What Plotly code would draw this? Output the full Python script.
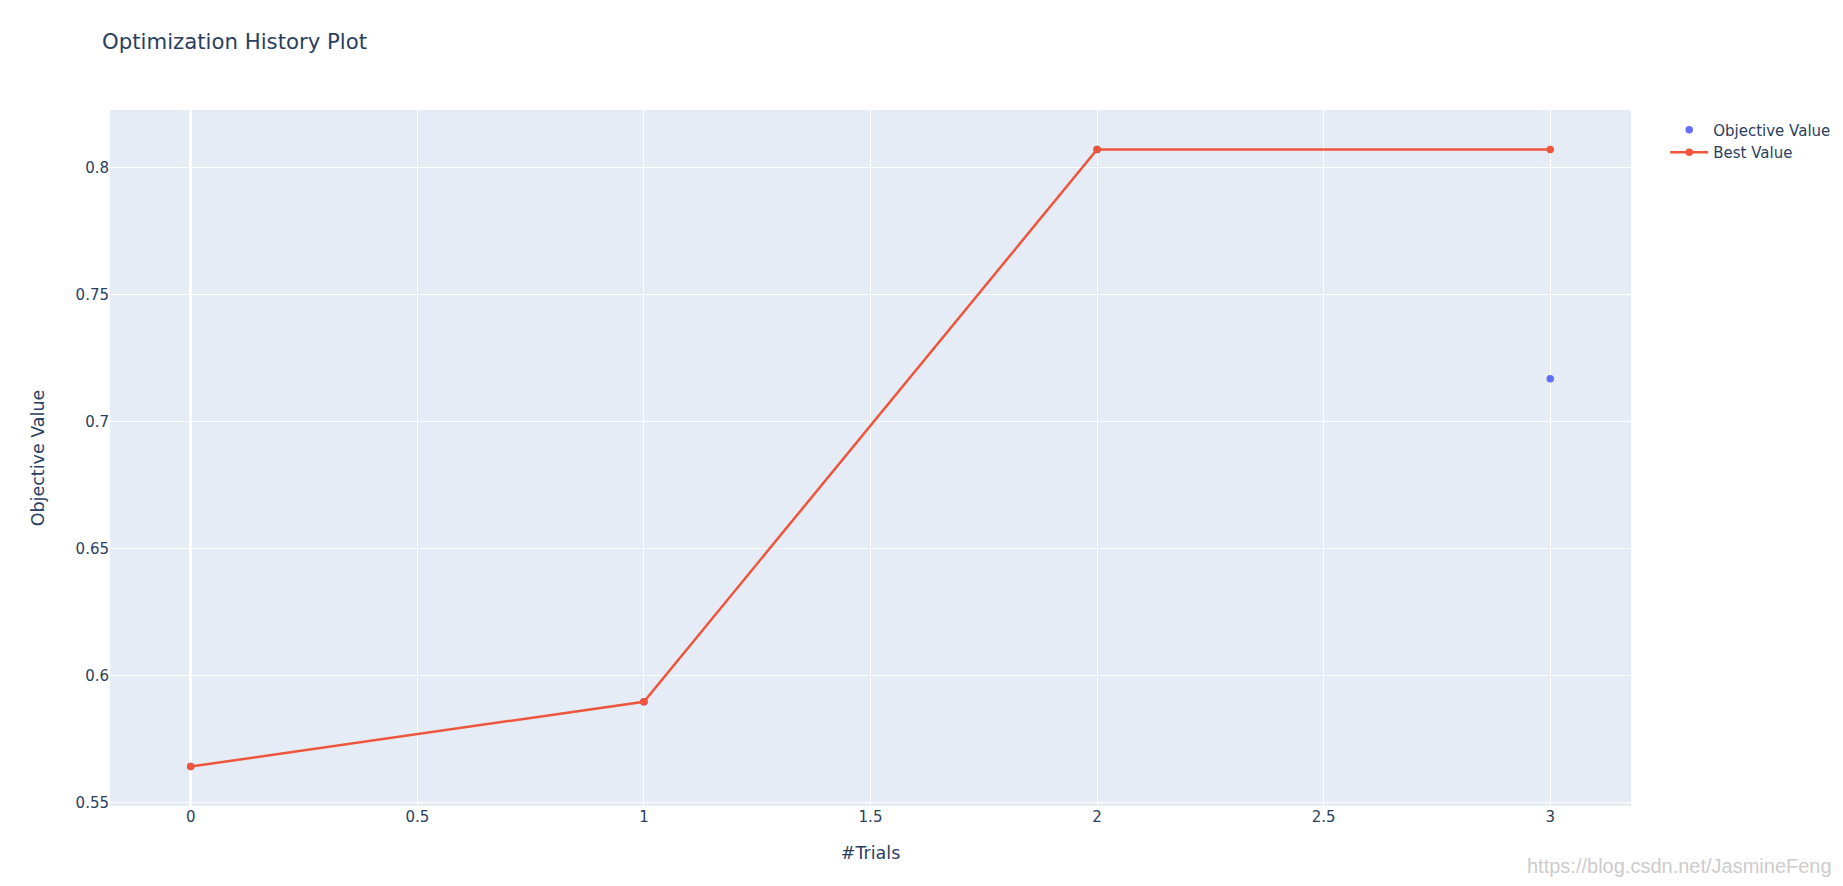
import plotly.graph_objects as go

trials = [0, 1, 2, 3]
objective_values = [0.5643, 0.5898, 0.8071, 0.7169]
best_values = [0.5643, 0.5898, 0.8071, 0.8071]

S = 1.25  # the reference was captured at 125% zoom

fig = go.Figure()
fig.add_trace(go.Scatter(
    x=trials, y=objective_values, mode="markers", name="Objective Value",
    marker=dict(color="#636efa", size=6 * S),
))
fig.add_trace(go.Scatter(
    x=trials, y=best_values, mode="lines+markers", name="Best Value",
    marker=dict(color="#EF553B", size=6 * S),
    line=dict(color="#EF553B", width=2 * S),
))

fig.update_layout(
    template="plotly",
    width=1843, height=886,
    font=dict(family="DejaVu Sans", size=12 * S, color="#2a3f5f"),
    title=dict(text="Optimization History Plot", x=94 / 1843, xanchor="left",
               y=1 - 34 / 886, yanchor="middle", font=dict(size=17 * S)),
    margin=dict(l=102, r=220, t=102, b=88, autoexpand=False),
    xaxis=dict(title=dict(text="#Trials", font=dict(size=14 * S), standoff=21),
               gridwidth=S, zerolinewidth=2 * S),
    yaxis=dict(title=dict(text="Objective Value", font=dict(size=14 * S), standoff=26),
               gridwidth=S, zerolinewidth=2 * S),
    legend=dict(font=dict(size=12 * S), itemwidth=38, x=1.0225, xanchor="left",
                y=0.995, yanchor="top"),
    showlegend=True,
)
# blog watermark in the lower right corner
fig.add_annotation(
    text="https://blog.csdn.net/JasmineFeng", xref="paper", yref="paper",
    x=1.1335, y=-0.0862, xanchor="right", yanchor="middle", showarrow=False,
    font=dict(family="Liberation Sans", size=20, color="#cccccc"),
)
fig.write_html("out.html")
